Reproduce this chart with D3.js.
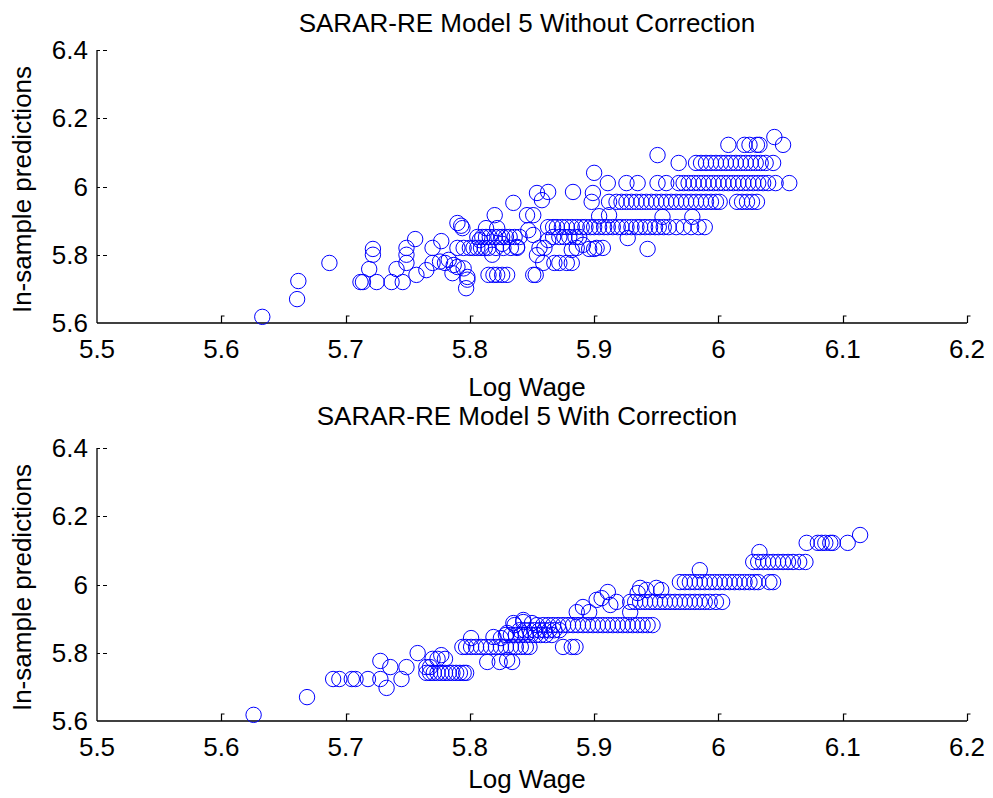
<!DOCTYPE html>
<html>
<head>
<meta charset="utf-8">
<script src="https://cdn.jsdelivr.net/npm/d3@7"></script>
<style>
  body { margin: 0; background: #fff; }
  text { font-family: "Liberation Sans", Arial, sans-serif; fill: #000; }
</style>
</head>
<body>
<div class="chart"></div>
<script>
// tick values shared by both panels
var xTicks = [5.5, 5.6, 5.7, 5.8, 5.9, 6, 6.1, 6.2];
var yTicks = [5.6, 5.8, 6, 6.2, 6.4];

var titles = ['SARAR-RE Model 5 Without Correction', 'SARAR-RE Model 5 With Correction'];
var xLabel = 'Log Wage';
var yLabel = 'In-sample predictions';

// [log wage, in-sample prediction]
var withoutCorrection = [
  [5.633,5.618],[5.661,5.670],[5.662,5.723],[5.687,5.776],
  [5.712,5.720],[5.714,5.720],[5.725,5.720],[5.722,5.817],[5.722,5.800],[5.719,5.758],
  [5.737,5.720],[5.746,5.720],[5.741,5.758],[5.749,5.820],[5.749,5.800],[5.749,5.776],
  [5.756,5.846],[5.757,5.741],[5.765,5.755],[5.770,5.820],[5.770,5.776],[5.777,5.840],
  [5.776,5.780],[5.780,5.776],[5.786,5.746],[5.787,5.770],[5.790,5.893],[5.793,5.885],
  [5.794,5.878],[5.790,5.820],[5.795,5.760],[5.798,5.727],[5.797,5.702],[5.800,5.820],
  [5.806,5.820],[5.812,5.820],[5.783,5.785],[5.790,5.764],[5.798,5.735],
  [5.815,5.741],[5.819,5.741],[5.822,5.741],[5.826,5.741],[5.830,5.741],[5.851,5.741],[5.853,5.741],
  [5.820,5.916],[5.813,5.878],[5.808,5.843],
  [5.806,5.852],[5.810,5.852],[5.813,5.852],[5.816,5.852],[5.820,5.852],[5.823,5.852],
  [5.826,5.852],[5.829,5.852],[5.832,5.852],[5.836,5.852],[5.840,5.852],
  [5.795,5.820],[5.803,5.820],[5.809,5.820],[5.815,5.820],[5.821,5.820],[5.827,5.820],
  [5.833,5.820],[5.838,5.820],
  [5.835,5.952],[5.822,5.878],[5.838,5.823],[5.826,5.832],[5.818,5.800],
  [5.868,5.776],[5.872,5.776],[5.878,5.776],[5.882,5.776],
  [5.846,5.916],[5.851,5.916],[5.847,5.872],[5.851,5.858],
  [5.854,5.981],[5.858,5.960],[5.863,5.984],
  [5.854,5.799],[5.856,5.820],[5.860,5.820],[5.863,5.843],[5.859,5.776],
  [5.863,5.881],[5.867,5.881],[5.870,5.881],[5.874,5.881],[5.878,5.881],[5.882,5.881],
  [5.886,5.881],[5.890,5.881],[5.893,5.881],[5.897,5.881],[5.900,5.881],[5.904,5.881],
  [5.908,5.881],[5.911,5.881],[5.915,5.881],[5.919,5.881],[5.922,5.881],[5.926,5.881],
  [5.930,5.881],[5.934,5.881],[5.937,5.881],[5.941,5.881],[5.945,5.881],[5.949,5.881],
  [5.952,5.881],[5.956,5.881],[5.960,5.881],[5.966,5.881],[5.972,5.881],[5.978,5.881],
  [5.984,5.881],[5.989,5.881],
  [5.867,5.852],[5.872,5.852],[5.876,5.852],[5.880,5.852],[5.885,5.852],[5.888,5.852],
  [5.882,5.814],[5.886,5.820],[5.891,5.829],[5.896,5.817],[5.900,5.817],
  [5.900,6.040],[5.911,6.010],[5.898,5.955],[5.899,5.981],[5.883,5.984],
  [5.912,5.955],[5.918,5.955],[5.922,5.955],[5.926,5.955],[5.930,5.955],[5.934,5.955],
  [5.938,5.955],[5.942,5.955],[5.946,5.955],[5.950,5.955],[5.954,5.955],[5.958,5.955],
  [5.962,5.955],[5.966,5.955],[5.970,5.955],[5.974,5.955],[5.978,5.955],[5.982,5.955],
  [5.986,5.955],[5.990,5.955],[5.994,5.955],[5.998,5.955],[6.001,5.955],[6.015,5.955],
  [6.019,5.955],[6.023,5.955],[6.027,5.955],[6.031,5.955],
  [5.926,6.010],[5.935,6.010],[5.927,5.849],[5.912,5.916],[5.907,5.820],[5.902,5.820],
  [5.943,5.817],[5.955,5.911],[5.979,5.911],[5.904,5.913],
  [5.951,6.010],[5.958,6.010],[5.968,6.010],[5.972,6.010],[5.976,6.010],[5.980,6.010],
  [5.984,6.010],[5.988,6.010],[5.992,6.010],[5.996,6.010],[6.000,6.010],[6.004,6.010],
  [6.008,6.010],[6.012,6.010],[6.016,6.010],[6.020,6.010],[6.024,6.010],[6.028,6.010],
  [6.032,6.010],[6.036,6.010],[6.040,6.010],[6.046,6.010],[6.057,6.010],
  [5.951,6.092],[5.968,6.069],
  [5.982,6.069],[5.986,6.069],[5.990,6.069],[5.994,6.069],[5.998,6.069],[6.002,6.069],
  [6.006,6.069],[6.010,6.069],[6.014,6.069],[6.018,6.069],[6.022,6.069],[6.026,6.069],
  [6.030,6.069],[6.034,6.069],[6.038,6.069],[6.044,6.069],
  [6.008,6.122],[6.021,6.122],[6.025,6.122],[6.031,6.122],[6.033,6.122],[6.052,6.122],
  [6.045,6.145]
];

// [log wage, in-sample prediction]
var withCorrection = [
  [5.626,5.618],[5.669,5.670],
  [5.690,5.723],[5.695,5.723],[5.705,5.723],[5.708,5.723],[5.718,5.723],[5.728,5.723],
  [5.728,5.776],[5.736,5.758],[5.733,5.697],[5.745,5.723],[5.749,5.758],[5.758,5.799],
  [5.765,5.758],[5.768,5.758],[5.770,5.782],[5.774,5.782],[5.777,5.793],[5.780,5.782],
  [5.765,5.741],[5.768,5.741],[5.771,5.741],[5.774,5.741],[5.777,5.741],[5.780,5.741],
  [5.783,5.741],[5.786,5.741],[5.789,5.741],[5.792,5.741],[5.795,5.741],[5.797,5.741],
  [5.794,5.817],[5.801,5.843],
  [5.797,5.817],[5.801,5.817],[5.805,5.817],[5.809,5.817],[5.813,5.817],[5.817,5.817],
  [5.821,5.817],[5.825,5.817],[5.829,5.817],[5.833,5.817],[5.837,5.817],[5.841,5.817],
  [5.845,5.817],[5.848,5.817],
  [5.814,5.773],[5.824,5.773],[5.834,5.773],[5.830,5.779],
  [5.819,5.846],[5.830,5.858],[5.836,5.881],[5.843,5.896],
  [5.825,5.843],[5.829,5.852],[5.833,5.852],[5.837,5.852],[5.841,5.852],[5.845,5.852],
  [5.849,5.852],[5.853,5.852],[5.857,5.852],[5.861,5.852],[5.866,5.852],
  [5.835,5.887],[5.843,5.890],[5.850,5.887],[5.854,5.881],
  [5.840,5.866],[5.844,5.866],[5.848,5.866],[5.852,5.866],[5.856,5.866],[5.860,5.866],
  [5.864,5.866],[5.868,5.866],[5.872,5.866],
  [5.859,5.881],[5.863,5.881],[5.867,5.881],[5.871,5.881],[5.875,5.881],[5.879,5.881],
  [5.883,5.881],[5.887,5.881],[5.891,5.881],[5.895,5.881],[5.899,5.881],[5.903,5.881],
  [5.907,5.881],[5.911,5.881],[5.915,5.881],[5.919,5.881],[5.923,5.881],[5.927,5.881],
  [5.931,5.881],[5.935,5.881],[5.939,5.881],[5.943,5.881],[5.947,5.881],
  [5.875,5.817],[5.882,5.817],[5.885,5.817],
  [5.886,5.919],[5.891,5.934],[5.902,5.955],[5.906,5.960],[5.911,5.978],[5.918,5.949],
  [5.913,5.940],[5.929,5.919],[5.935,5.975],[5.896,5.919],
  [5.929,5.949],[5.933,5.949],[5.937,5.949],[5.941,5.949],[5.945,5.949],[5.949,5.949],
  [5.953,5.949],[5.957,5.949],[5.961,5.949],[5.965,5.949],[5.969,5.949],[5.973,5.949],
  [5.977,5.949],[5.981,5.949],[5.985,5.949],[5.989,5.949],[5.993,5.949],[5.998,5.949],
  [6.003,5.949],
  [5.937,5.990],[5.942,5.984],[5.950,5.990],[5.954,5.984],
  [5.969,6.007],[5.973,6.007],[5.977,6.007],[5.981,6.007],[5.985,6.007],[5.989,6.007],
  [5.993,6.007],[5.997,6.007],[6.001,6.007],[6.005,6.007],[6.009,6.007],[6.013,6.007],
  [6.017,6.007],[6.021,6.007],[6.025,6.007],[6.029,6.007],[6.032,6.007],[6.041,6.007],
  [6.044,6.007],[5.985,6.042],
  [6.028,6.066],[6.032,6.066],[6.036,6.066],[6.040,6.066],[6.044,6.066],[6.048,6.066],
  [6.052,6.066],[6.056,6.066],[6.060,6.066],[6.065,6.066],[6.070,6.066],[6.033,6.095],
  [6.071,6.122],[6.080,6.122],[6.083,6.122],[6.086,6.122],[6.090,6.122],[6.092,6.122],
  [6.104,6.122],[6.114,6.145]
];

var width = 993, height = 798;
var fontSize = 26;

var svg = d3.select('.chart').append('svg')
  .attr('width', width)
  .attr('height', height);

//one panel per data set, stacked vertically (label offsets differ a little)
var panels = [
  { data: withoutCorrection, title: titles[0], top: 50, bottom: 323, titleGap: 18, labelGap: 73 },
  { data: withCorrection, title: titles[1], top: 448, bottom: 721, titleGap: 23, labelGap: 67 }
];

var left = 97, right = 967;

panels.forEach(function(p) {
  var x = d3.scaleLinear().domain([5.5, 6.2]).range([left, right]);
  var y = d3.scaleLinear().domain([5.6, 6.4]).range([p.bottom, p.top]);
  var g = svg.append('g');

  //axis lines (left and bottom only)
  g.append('line')
    .attr('x1', left).attr('x2', left)
    .attr('y1', y(6.4)).attr('y2', y(5.6))
    .attr('stroke', '#000').attr('stroke-width', 1.3);
  g.append('line')
    .attr('x1', left).attr('x2', right)
    .attr('y1', y(5.6)).attr('y2', y(5.6))
    .attr('stroke', '#000').attr('stroke-width', 1.3);

  //x ticks point inward, with the small nub matlab leaves at the top
  g.selectAll('.xtick')
    .data(xTicks.slice(1))
    .enter().append('path')
    .attr('class', 'xtick')
    .attr('d', function(d) {
      var px = Math.round(x(d)) + 0.5;
      return 'M' + px + ',' + y(5.6) + 'V' + (y(5.6) - 7) + 'h3';
    })
    .attr('fill', 'none').attr('stroke', '#000').attr('stroke-width', 1.2);

  g.selectAll('.ytick')
    .data(yTicks.slice(1))
    .enter().append('path')
    .attr('class', 'ytick')
    .attr('d', function(d) {
      var py = Math.round(y(d)) + 0.5;
      return 'M' + left + ',' + py + 'h3M' + (left + 6) + ',' + py + 'h4';
    })
    .attr('fill', 'none').attr('stroke', '#000').attr('stroke-width', 1.2);

  //tick labels
  g.selectAll('.xlab')
    .data(xTicks)
    .enter().append('text')
    .attr('x', function(d) { return x(d); })
    .attr('y', y(5.6) + 35)
    .attr('text-anchor', 'middle')
    .attr('font-size', fontSize)
    .text(function(d) { return String(+d.toFixed(1)); });

  g.selectAll('.ylab')
    .data(yTicks)
    .enter().append('text')
    .attr('x', 88)
    .attr('y', function(d) { return y(d) + 9; })
    .attr('text-anchor', 'end')
    .attr('font-size', fontSize)
    .text(function(d) { return String(+d.toFixed(1)); });

  //titles and axis labels
  g.append('text')
    .attr('x', 527).attr('y', p.top - p.titleGap)
    .attr('text-anchor', 'middle')
    .attr('font-size', fontSize)
    .text(p.title);

  g.append('text')
    .attr('x', 527).attr('y', p.bottom + p.labelGap)
    .attr('text-anchor', 'middle')
    .attr('font-size', fontSize)
    .text(xLabel);

  g.append('text')
    .attr('transform', 'translate(31,' + ((p.top + p.bottom) / 2 + 3) + ') rotate(-90)')
    .attr('text-anchor', 'middle')
    .attr('font-size', fontSize)
    .text(yLabel);

  //open circle markers
  g.selectAll('circle')
    .data(p.data)
    .enter().append('circle')
    .attr('cx', function(d) { return x(d[0]); })
    .attr('cy', function(d) { return y(d[1]); })
    .attr('r', 7.7)
    .attr('fill', 'none')
    .attr('stroke', '#0000ff')
    .attr('stroke-width', 1);
});
</script>
</body>
</html>
